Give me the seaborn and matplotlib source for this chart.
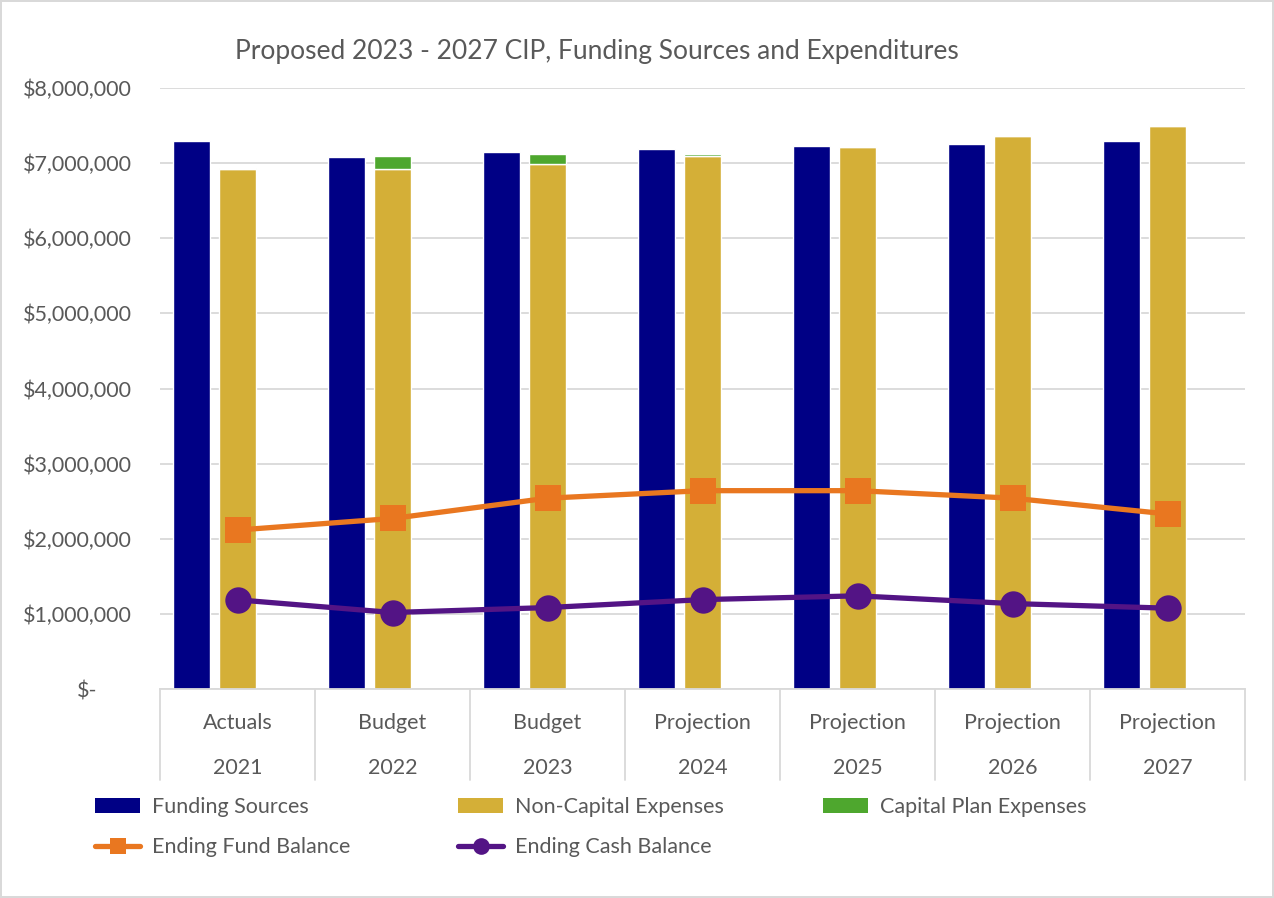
import numpy as np
import pandas as pd
import matplotlib
matplotlib.use("Agg")
import matplotlib.pyplot as plt
import matplotlib.transforms as mtransforms
from matplotlib.lines import Line2D
from matplotlib.patches import Patch
import seaborn as sns

# ---- data ----
years = ["2021", "2022", "2023", "2024", "2025", "2026", "2027"]
stages = ["Actuals", "Budget", "Budget", "Projection", "Projection", "Projection", "Projection"]
funding_sources = [7293000, 7076000, 7147000, 7187000, 7222000, 7257000, 7293000]
non_capital = [6920000, 6920000, 6990000, 7089000, 7218000, 7356000, 7497000]
capital_plan = [13000, 170000, 133000, 30000, 0, 0, 0]
fund_balance = [2116000, 2270000, 2540000, 2640000, 2640000, 2540000, 2330000]
cash_balance = [1187000, 1018000, 1084000, 1190000, 1240000, 1137000, 1076000]
y_ticks = [0, 1000000, 2000000, 3000000, 4000000, 5000000, 6000000, 7000000, 8000000]
y_labels = ["$-", "$1,000,000", "$2,000,000", "$3,000,000", "$4,000,000",
            "$5,000,000", "$6,000,000", "$7,000,000", "$8,000,000"]

sns.set_theme(style="white")
plt.rcParams['font.family'] = ['Lato', 'DejaVu Sans']

NAVY = "#000085"
GOLD = "#D4AF37"
GREEN = "#4EA72E"
ORANGE = "#E97720"
PURPLE = "#531485"
TXT = "#595959"
GRID = "#D9D9D9"
FS = 15.5

df = pd.DataFrame({"x": np.arange(len(years)), "fund": fund_balance, "cash": cash_balance})

fig = plt.figure(figsize=(12.74, 8.98), dpi=100)
fig.patch.set_edgecolor(GRID)
fig.patch.set_linewidth(1.5)
ax = fig.add_axes([160 / 1274, 1 - 689 / 898, (1245 - 160) / 1274, (689 - 88) / 898])

x = np.arange(len(years))
w = 0.24
ax.bar(x - 0.295, funding_sources, width=w, color=NAVY, zorder=2)
ax.bar(x, non_capital, width=w, color=GOLD, zorder=2)
ax.bar(x, capital_plan, width=w, bottom=non_capital, color=GREEN, zorder=2)

sns.lineplot(data=df, x="x", y="fund", ax=ax, color=ORANGE, linewidth=3.8,
             marker="s", markersize=19, markeredgewidth=0, zorder=3)
sns.lineplot(data=df, x="x", y="cash", ax=ax, color=PURPLE, linewidth=3.8,
             marker="o", markersize=19, markeredgewidth=0, zorder=4)

ax.set_xlim(-0.5, len(years) - 0.5)
ax.set_ylim(0, 8000000)
ax.set_yticks(y_ticks)
ax.set_yticklabels(y_labels, fontsize=FS, color=TXT)
ax.tick_params(axis="y", length=0, pad=20)
ax.set_xticks([])
ax.set_xlabel("")
ax.set_ylabel("")
ax.yaxis.grid(True, color=GRID, linewidth=1.3, zorder=0)
ax.set_axisbelow(True)
for s in ["left", "right", "top"]:
    ax.spines[s].set_visible(False)
ax.spines["bottom"].set_color(GRID)
ax.spines["bottom"].set_linewidth(1.3)

# shift "$-" label left like accounting format
lbl0 = ax.get_yticklabels()[0]
lbl0.set_transform(lbl0.get_transform() + mtransforms.ScaledTranslation(-0.35, 0, fig.dpi_scale_trans))

# two-level category labels
trans = mtransforms.blended_transform_factory(ax.transData, ax.transAxes)
for i, (st, yr) in enumerate(zip(stages, years)):
    ax.text(i, -0.056, st, transform=trans, ha="center", va="center", fontsize=FS, color=TXT)
    ax.text(i, -0.132, yr, transform=trans, ha="center", va="center", fontsize=FS, color=TXT)
for b in np.arange(-0.5, len(years), 1.0):
    ax.plot([b, b], [0, -0.152], transform=trans, color=GRID, linewidth=1.3, clip_on=False)

fig.text(597 / 1274, 1 - 52 / 898, "Proposed 2023 - 2027 CIP, Funding Sources and Expenditures",
         ha="center", va="center", fontsize=19, color=TXT)

def line_handle(color, marker):
    return Line2D([0], [0], color=color, linewidth=3.8, marker=marker,
                  markersize=12, markeredgewidth=0)

legend_cols = [
    (95, [Patch(facecolor=NAVY, edgecolor="none"), line_handle(ORANGE, "s")],
     ["Funding Sources", "Ending Fund Balance"]),
    (458, [Patch(facecolor=GOLD, edgecolor="none"), line_handle(PURPLE, "o")],
     ["Non-Capital Expenses", "Ending Cash Balance"]),
    (823, [Patch(facecolor=GREEN, edgecolor="none")],
     ["Capital Plan Expenses"]),
]
for xpos, hs, ls in legend_cols:
    leg = fig.legend(hs, ls, loc="upper left",
                     bbox_to_anchor=(xpos / 1274, 1 - 797 / 898),
                     frameon=False, fontsize=FS, handlelength=2.1, handleheight=0.75,
                     handletextpad=0.55, labelspacing=0.95,
                     borderaxespad=0, borderpad=0)
    for t in leg.get_texts():
        t.set_color(TXT)

fig.savefig("out.png", dpi=100, edgecolor=fig.get_edgecolor())
